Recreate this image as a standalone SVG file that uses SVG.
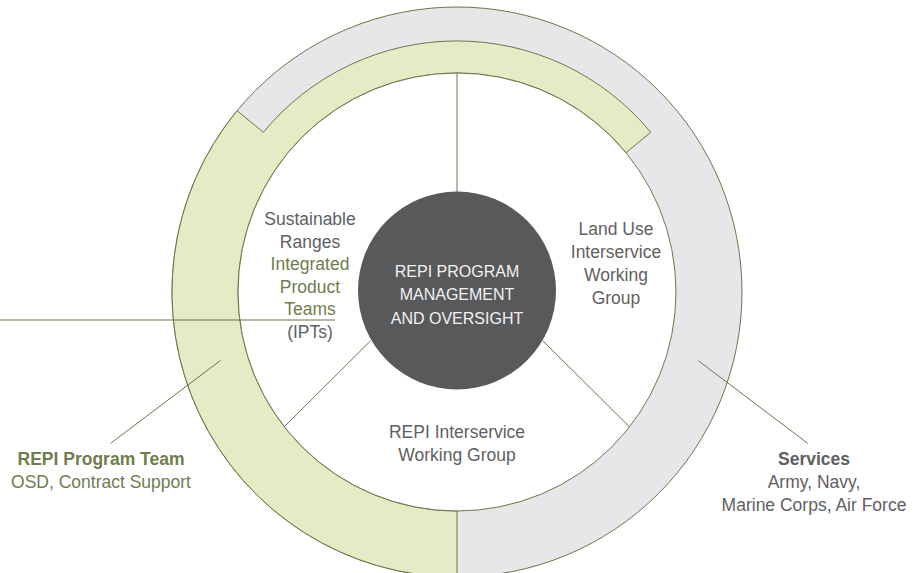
<svg xmlns="http://www.w3.org/2000/svg" width="922" height="573" viewBox="0 0 922 573">
  <style>
    .ol { stroke: #6e7548; stroke-width: 1; fill: none; }
    .t { font-family: "Liberation Sans", Arial, sans-serif; font-size: 17.5px; fill: #5f6062; text-anchor: middle; }
    .g { fill: #6f7d4c; }
    .b { font-weight: bold; }
    .c { font-family: "Liberation Sans", Arial, sans-serif; font-size: 16px; fill: #f2f2f2; text-anchor: middle; }
  </style>
  <rect width="922" height="573" fill="#ffffff"/>
  <g id="services-ring">
    <circle cx="457" cy="292" r="285" fill="#e6e7e9" stroke="#6e7548" stroke-width="1"/>
  </g>
  <g id="program-team-ring">
    <path d="M457,577 A285,285 0 0 1 237.1,110.7 L263.3,132.3 A251,251 0 0 1 650.7,132.3 L626,152.7 A219,219 0 1 0 457,511 Z" fill="#e3ecc5" stroke="#6e7548" stroke-width="1"/>
  </g>
  <g id="inner-circle">
    <circle cx="457" cy="292" r="219" fill="#ffffff" stroke="#6e7548" stroke-width="1"/>
  </g>
  <g id="connectors">
    <line class="ol" x1="457" y1="73" x2="457" y2="192"/>
    <line class="ol" x1="370.7" y1="340.7" x2="284.3" y2="426.7"/>
    <line class="ol" x1="542.7" y1="340.7" x2="629.3" y2="426.7"/>
    <line class="ol" x1="0" y1="320" x2="335" y2="320"/>
    <line class="ol" x1="110.7" y1="443.3" x2="220.7" y2="360.3"/>
    <line class="ol" x1="698.3" y1="360.7" x2="807.7" y2="443.3"/>
  </g>
  <g id="center">
    <circle cx="457" cy="290.5" r="99" fill="#58595b"/>
    <text class="c" x="457" y="276.5">REPI PROGRAM</text>
    <text class="c" x="457" y="300">MANAGEMENT</text>
    <text class="c" x="457" y="323.5">AND OVERSIGHT</text>
  </g>
  <g id="sustainable-ranges">
    <text class="t" x="310" y="225">Sustainable</text>
    <text class="t" x="310" y="247.6">Ranges</text>
    <text class="t g" x="310" y="270.2">Integrated</text>
    <text class="t g" x="310" y="292.8">Product</text>
    <text class="t g" x="310" y="315.4">Teams</text>
    <text class="t" x="310" y="338">(IPTs)</text>
  </g>
  <g id="land-use">
    <text class="t" x="616" y="234.5">Land Use</text>
    <text class="t" x="616" y="257.5">Interservice</text>
    <text class="t" x="616" y="280.5">Working</text>
    <text class="t" x="616" y="303.5">Group</text>
  </g>
  <g id="repi-interservice">
    <text class="t" x="457" y="438">REPI Interservice</text>
    <text class="t" x="457" y="461">Working Group</text>
  </g>
  <g id="repi-program-team">
    <text class="t g b" x="101" y="465">REPI Program Team</text>
    <text class="t g" x="101" y="488">OSD, Contract Support</text>
  </g>
  <g id="services">
    <text class="t b" x="814" y="465">Services</text>
    <text class="t" x="814" y="488">Army, Navy,</text>
    <text class="t" x="814" y="511">Marine Corps, Air Force</text>
  </g>
</svg>
